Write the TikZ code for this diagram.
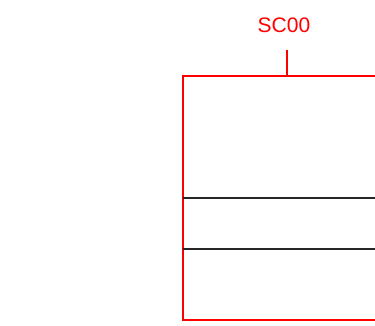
\documentclass[tikz,border=0pt]{standalone}
\usepackage{fontspec}
\setmainfont{Liberation Sans}
\usetikzlibrary{positioning}

\tikzset{
    frame/.style={draw=red, line width=1.5pt},
    divider/.style={draw=black!85, line width=1.3pt},
    tag/.style={text=red, font=\fontsize{21}{21}\selectfont, inner sep=0pt, anchor=base},
}

\begin{document}
\begin{tikzpicture}[x=1pt, y=-1pt]
        \useasboundingbox (0,0) rectangle (375,326);

        % Frame.
        \draw[frame] (400,76) -- (183,76) -- (183,320) -- (400,320);

        % Rows.
        \draw[divider] (183,198) -- (400,198);
        \draw[divider] (183,249) -- (400,249);

        % Label.
        \node[tag] (sc00) at (284,33) {SC00};
        \coordinate (tickTop) at (287,50);
        \coordinate (tickBot) at (287,76);
        \draw[frame] (tickTop) -- (tickBot);
    \end{tikzpicture}
\end{document}
